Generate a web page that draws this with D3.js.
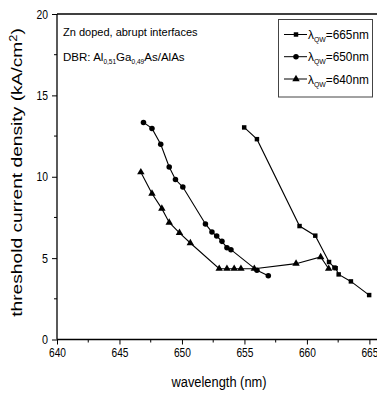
<!DOCTYPE html>
<html>
<head>
<meta charset="utf-8">
<script src="https://cdn.jsdelivr.net/npm/d3@7"></script>
<style>
  body { margin: 0; background: #fff; }
  svg { display: block; }
  text { font-family: "Liberation Sans", Arial, sans-serif; fill: #000; }
</style>
</head>
<body>
<div id="chart"></div>
<script>
// data
const wl665 = [654.98, 656.0, 659.41, 660.67, 661.77, 662.2, 662.3, 662.54, 663.52, 664.98];
const jth665 = [13.03, 12.31, 6.97, 6.38, 4.76, 4.42, 4.38, 4.0, 3.57, 2.73];

const wl650 = [646.92, 647.6, 648.3, 648.98, 649.48, 650.07, 651.88, 652.4, 652.78, 653.2, 653.6, 653.92, 656.0, 656.91];
const jth650 = [13.34, 12.97, 12.0, 10.6, 9.83, 9.37, 7.1, 6.6, 6.36, 6.03, 5.64, 5.52, 4.25, 3.92];

const wl640 = [646.71, 647.6, 648.39, 648.98, 649.8, 650.67, 652.98, 653.6, 654.18, 654.72, 655.79, 659.13, 661.1, 661.74];
const jth640 = [10.28, 8.97, 8.04, 7.19, 6.55, 5.93, 4.35, 4.35, 4.35, 4.35, 4.35, 4.66, 5.07, 4.35];

const xTicks = [640, 645, 650, 655, 660, 665];
const xMinor = [642.5, 647.5, 652.5, 657.5, 662.5, 667.5];
const yTicks = [0, 5, 10, 15, 20];
const yMinor = [2.5, 7.5, 12.5, 17.5];

const seriesNames = ["665", "650", "640"];
const seriesSymbols = [d3.symbolSquare, d3.symbolCircle, d3.symbolTriangle];

const W = 377, H = 394;
const plotLeft = 57, plotTop = 14, plotBottom = 339.5;

const svg = d3.select("#chart").append("svg")
  .attr("width", W)
  .attr("height", H);

const x = d3.scaleLinear().domain([640, 665]).range([plotLeft, 369.4]);
const y = d3.scaleLinear().domain([0, 20]).range([plotBottom, plotTop]);

// squeeze a text group horizontally to the width it has in the picture
function fit(g, tx, ty, target, rot) {
  g.attr("transform", "translate(" + tx + "," + ty + ")" + (rot ? " rotate(" + rot + ")" : ""));
  const w = g.node().getBBox().width;
  g.attr("transform", "translate(" + tx + "," + ty + ")" + (rot ? " rotate(" + rot + ")" : "") + " scale(" + (target / w) + ",1)");
}

// frame: top line and axes run off to the right edge
svg.append("line")
  .attr("x1", plotLeft).attr("x2", W).attr("y1", plotTop).attr("y2", plotTop)
  .attr("stroke", "#000").attr("stroke-width", 1.3);

const xAxis = svg.append("g")
  .attr("transform", "translate(0," + plotBottom + ")")
  .call(d3.axisBottom(x).tickValues(xTicks).tickSize(5).tickPadding(3).tickFormat(d3.format("d")));
xAxis.select(".domain").remove();
xAxis.selectAll("text").style("font-size", "13px")
  .attr("textLength", 17).attr("lengthAdjust", "spacingAndGlyphs");
xAxis.selectAll(".minor").data(xMinor).enter().append("line")
  .attr("x1", d => x(d)).attr("x2", d => x(d))
  .attr("y1", 0).attr("y2", 3)
  .attr("stroke", "#000");
xAxis.append("line")
  .attr("x1", plotLeft).attr("x2", W).attr("y1", 0).attr("y2", 0)
  .attr("stroke", "#000").attr("stroke-width", 1.3);

const yAxis = svg.append("g")
  .attr("transform", "translate(" + plotLeft + ",0)")
  .call(d3.axisLeft(y).tickValues(yTicks).tickSize(5).tickPadding(4).tickFormat(d3.format("d")));
yAxis.select(".domain").remove();
yAxis.selectAll("text").style("font-size", "13px")
  .attr("textLength", d => d >= 10 ? 11.5 : 6).attr("lengthAdjust", "spacingAndGlyphs");
yAxis.selectAll(".minor").data(yMinor).enter().append("line")
  .attr("x1", -3).attr("x2", 0)
  .attr("y1", d => y(d)).attr("y2", d => y(d))
  .attr("stroke", "#000");
yAxis.append("line")
  .attr("x1", 0).attr("x2", 0).attr("y1", plotTop).attr("y2", plotBottom)
  .attr("stroke", "#000").attr("stroke-width", 1.3);

// series
const line = d3.line().x(d => x(d[0])).y(d => y(d[1]));
const allSeries = [
  d3.zip(wl665, jth665),
  d3.zip(wl650, jth650),
  d3.zip(wl640, jth640)
];
const symSize = [20, 24, 24];

allSeries.forEach((pts, i) => {
  svg.append("path")
    .datum(pts)
    .attr("d", line)
    .attr("fill", "none")
    .attr("stroke", "#000")
    .attr("stroke-width", 1.1);
  svg.selectAll(null).data(pts).enter().append("path")
    .attr("transform", d => "translate(" + x(d[0]) + "," + y(d[1]) + ")")
    .attr("d", d3.symbol().type(seriesSymbols[i]).size(symSize[i]))
    .attr("fill", "#000");
});

// legend
const lg = svg.append("g");
lg.append("rect")
  .attr("x", 278.5).attr("y", 19.5).attr("width", 94).attr("height", 77.5)
  .attr("fill", "#fff").attr("stroke", "#444").attr("stroke-width", 1);
const rowY = [34.5, 56.7, 79];
seriesNames.forEach((name, i) => {
  lg.append("line")
    .attr("x1", 284).attr("x2", 307).attr("y1", rowY[i]).attr("y2", rowY[i])
    .attr("stroke", "#000");
  lg.append("path")
    .attr("transform", "translate(296," + rowY[i] + ")")
    .attr("d", d3.symbol().type(seriesSymbols[i]).size(symSize[i]))
    .attr("fill", "#000");
  const g = lg.append("g");
  const t = g.append("text").style("font-size", "12px");
  t.append("tspan").text("\u03bb");
  t.append("tspan").attr("dy", 3).style("font-size", "7px").text("QW");
  t.append("tspan").attr("dy", -3).text("=" + name + "nm");
  fit(g, 308, rowY[i] + 4.5, 61);
});

// annotations
const a1 = svg.append("g");
a1.append("text").style("font-size", "11.5px").text("Zn doped, abrupt interfaces");
fit(a1, 63, 36, 135);

const a2 = svg.append("g");
const dbr = a2.append("text").style("font-size", "11.5px");
dbr.append("tspan").text("DBR:  Al");
dbr.append("tspan").attr("dy", 3).style("font-size", "6.5px").text("0,51");
dbr.append("tspan").attr("dy", -3).text("Ga");
dbr.append("tspan").attr("dy", 3).style("font-size", "6.5px").text("0,49");
dbr.append("tspan").attr("dy", -3).text("As/AlAs");
fit(a2, 63, 61, 122);

// axis titles
const xt = svg.append("g");
xt.append("text")
  .attr("text-anchor", "middle")
  .style("font-size", "15px")
  .text("wavelength (nm)");
fit(xt, 219, 387, 96);

const ytg = svg.append("g");
const yt = ytg.append("text")
  .attr("text-anchor", "middle")
  .style("font-size", "15px");
yt.append("tspan").text("threshold current density (kA/cm");
yt.append("tspan").attr("dy", -5).style("font-size", "10px").text("2");
yt.append("tspan").attr("dy", 5).text(")");
fit(ytg, 21.5, 172.5, 289, -90);
</script>
</body>
</html>
